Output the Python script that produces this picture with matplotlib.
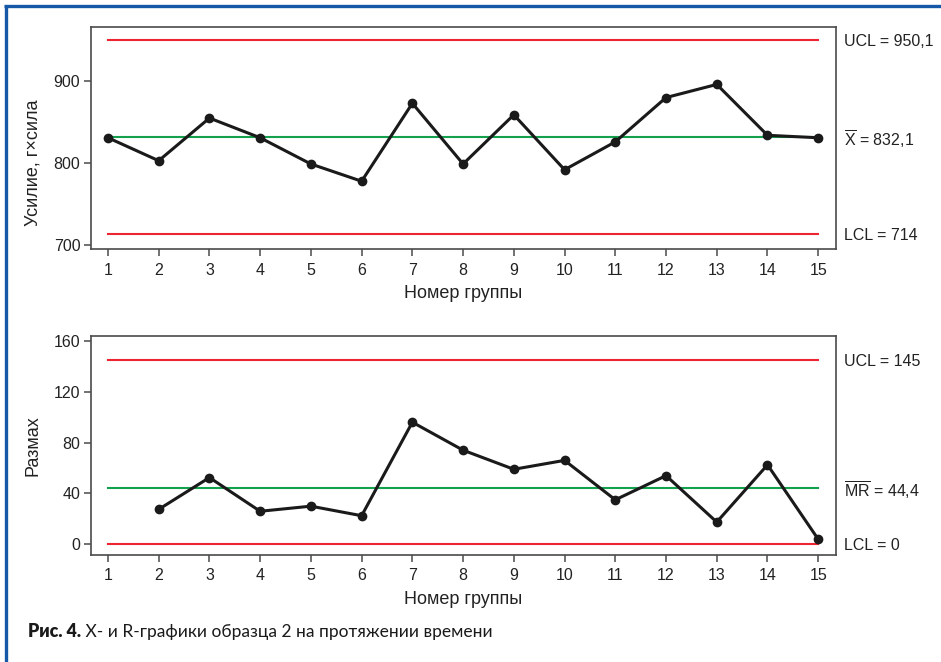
import matplotlib
matplotlib.use("Agg")
import matplotlib.pyplot as plt
from matplotlib.lines import Line2D
import matplotlib.transforms as mtransforms

plt.rcParams['font.family'] = 'sans-serif'
plt.rcParams['font.sans-serif'] = ['Liberation Sans']
plt.rcParams['mathtext.fontset'] = 'custom'
plt.rcParams['mathtext.rm'] = 'Liberation Sans'
plt.rcParams['mathtext.it'] = 'Liberation Sans:italic'

# ---- data ----
groups = list(range(1, 16))
x_values = [831, 803, 855, 831, 799, 778, 873, 799, 859, 792, 826, 880, 896, 834, 831]
mr_groups = list(range(2, 16))
mr_values = [27.5, 52.5, 26, 30, 22.5, 96, 74, 59, 66, 35, 54, 17.5, 62.5, 4]

x_ucl, x_center, x_lcl = 950.1, 832.1, 714
mr_ucl, mr_center, mr_lcl = 145, 44.4, 0

x_labels = ["UCL = 950,1", r"$\overline{\mathrm{X}}$ = 832,1", "LCL = 714"]
mr_labels = ["UCL = 145", r"$\overline{\mathrm{MR}}$ = 44,4", "LCL = 0"]
x_ticks = [700, 800, 900]
mr_ticks = [0, 40, 80, 120, 160]

xlabel = "Номер группы"
ylabel_top = "Усилие, г×сила"
ylabel_bottom = "Размах"
caption_bold = "Рис. 4."
caption_rest = " X- и R-графики образца 2 на протяжении времени"

RED = "#ec2530"
GREEN = "#14a04c"
SPINE = "#4a4a4a"
TXT = "#222222"
FONT = 'Liberation Sans'
FS = 11.5
LFS = 13

fig = plt.figure(figsize=(9.41, 6.62), dpi=100)
ax1 = fig.add_axes([0.0964, 0.6234, 0.792, 0.3358])
ax2 = fig.add_axes([0.0964, 0.1612, 0.792, 0.3317])


def style(ax):
    for s in ax.spines.values():
        s.set_color(SPINE)
        s.set_linewidth(1.2)
    ax.tick_params(direction='out', length=5, width=1.1, color=SPINE,
                   labelsize=FS, labelcolor=TXT)
    ax.tick_params(axis='x', pad=4.5)
    ax.tick_params(axis='y', pad=2.5)
    ax.set_xticks(groups)
    ax.set_xlim(0.66, 15.35)
    for lbl in ax.get_xticklabels() + ax.get_yticklabels():
        lbl.set_family(FONT)
    ax.set_xlabel(xlabel, fontsize=LFS, color=TXT, family=FONT)
    ax.xaxis.set_label_coords(0.5, -0.161)


def draw(ax, xs, ys, ucl, cl, lcl, labels):
    ax.plot([groups[0], groups[-1]], [ucl, ucl], color=RED, lw=1.5, zorder=2)
    ax.plot([groups[0], groups[-1]], [lcl, lcl], color=RED, lw=1.5, zorder=2)
    ax.plot([groups[0], groups[-1]], [cl, cl], color=GREEN, lw=1.5, zorder=2)
    ax.plot(xs, ys, color='#1a1a1a', lw=2.2, marker='o', ms=6, zorder=3)
    trans = mtransforms.blended_transform_factory(ax.transAxes, ax.transData)
    for val, lab in zip([ucl, cl, lcl], labels):
        ax.text(1.0108, val, lab, transform=trans, ha='left', va='center_baseline',
                fontsize=FS, color=TXT, family=FONT)


draw(ax1, groups, x_values, x_ucl, x_center, x_lcl, x_labels)
ax1.set_ylim(695, 966)
ax1.set_yticks(x_ticks)
style(ax1)
ax1.set_ylabel(ylabel_top, fontsize=LFS, color=TXT, family=FONT)
ax1.yaxis.set_label_coords(-0.066, 0.388)

draw(ax2, mr_groups, mr_values, mr_ucl, mr_center, mr_lcl, mr_labels)
ax2.set_ylim(-8.6, 164)
ax2.set_yticks(mr_ticks)
style(ax2)
ax2.set_ylabel(ylabel_bottom, fontsize=LFS, color=TXT, family=FONT)
ax2.yaxis.set_label_coords(-0.066, 0.5)

# blue frame (top and left)
BLUE = "#1658a8"
fig.add_artist(Line2D([5.5 / 941, 5.5 / 941], [0, 1 - 5.5 / 662], color=BLUE, lw=2.4,
                      transform=fig.transFigure, solid_capstyle='butt'))
fig.add_artist(Line2D([4.3 / 941, 1], [1 - 5.5 / 662, 1 - 5.5 / 662], color=BLUE, lw=2.4,
                      transform=fig.transFigure, solid_capstyle='butt'))

# caption
cap_family = ['Lato', 'DejaVu Sans']
t1 = fig.text(0.0294, 0.0458, caption_bold, fontsize=12.8, fontweight='heavy',
              family=cap_family, va='center', ha='left', color='#1a1a1a')
fig.canvas.draw()
bb = t1.get_window_extent()
fig.text(bb.x1 / fig.bbox.width, 0.0458, caption_rest, fontsize=12.5,
         family=cap_family, va='center', ha='left', color='#1a1a1a')

fig.savefig("out.png", dpi=100)
